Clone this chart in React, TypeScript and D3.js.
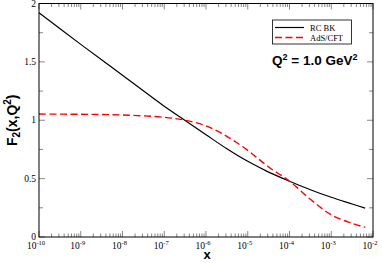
import React from "react";
import * as d3 from "d3";

// readings from the picture
const xs = [1e-10, 1e-9, 1e-8, 1e-7, 3.16e-7, 1e-6, 3.16e-6, 1e-5, 3.16e-5, 1e-4, 3.16e-4, 1e-3, 3.16e-3, 6.5e-3];
const rcbk = [1.92, 1.65, 1.385, 1.12, 0.998, 0.876, 0.756, 0.648, 0.556, 0.478, 0.405, 0.34, 0.283, 0.247];
const adscft = [1.053, 1.051, 1.045, 1.025, 1.0, 0.952, 0.862, 0.742, 0.6, 0.478, 0.323, 0.19, 0.117, 0.083];
const xTicks = [-10, -9, -8, -7, -6, -5, -4, -3, -2];
const yTicks = [0, 0.5, 1, 1.5, 2];
const yMinor = [0.25, 0.75, 1.25, 1.75];

const W = 382, H = 263;
const m = {left: 39, right: 9, top: 3.5, bottom: 26};

export default function App() {
    const x = d3.scaleLog().domain([1e-10, 1e-2]).range([m.left, W - m.right]);
    const y = d3.scaleLinear().domain([0, 2]).range([H - m.bottom, m.top]);
    const line = d3.line<number>()
        .x((d, i) => x(xs[i]))
        .y(d => y(d))
        .curve(d3.curveCatmullRom.alpha(0.5));

    const minors: number[] = [];
    xTicks.slice(0, -1).forEach(e => {
        for (let k = 2; k <= 9; k++) minors.push(k * Math.pow(10, e));
    });

    const x0 = m.left, x1 = W - m.right, y0 = H - m.bottom, y1 = m.top;
    const tickCol = "#888";
    const sans = "'Liberation Sans', Arial, sans-serif";

    return (
        <svg width={W} height={H} style={{position: "absolute", left: 0, top: 0, background: "#fff"}}
             fontFamily="'Liberation Serif', serif">
            {/* ticks, all four sides, inward */}
            {xTicks.map(e => {
                const px = x(Math.pow(10, e));
                return <g key={"xt" + e}>
                    <line x1={px} x2={px} y1={y0} y2={y0 - 6} stroke={tickCol}/>
                    <line x1={px} x2={px} y1={y1} y2={y1 + 6} stroke={tickCol}/>
                </g>;
            })}
            {minors.map((v, i) => {
                const px = x(v);
                return <g key={"xm" + i}>
                    <line x1={px} x2={px} y1={y0} y2={y0 - 3.5} stroke={tickCol}/>
                    <line x1={px} x2={px} y1={y1} y2={y1 + 3.5} stroke={tickCol}/>
                </g>;
            })}
            {yTicks.map(v => (
                <g key={"yt" + v}>
                    <line x1={x0} x2={x0 + 6} y1={y(v)} y2={y(v)} stroke={tickCol}/>
                    <line x1={x1} x2={x1 - 6} y1={y(v)} y2={y(v)} stroke={tickCol}/>
                </g>
            ))}
            {yMinor.map(v => (
                <g key={"ym" + v}>
                    <line x1={x0} x2={x0 + 4} y1={y(v)} y2={y(v)} stroke={tickCol}/>
                    <line x1={x1} x2={x1 - 4} y1={y(v)} y2={y(v)} stroke={tickCol}/>
                </g>
            ))}

            {/* curves */}
            <path d={line(rcbk) || ""} fill="none" stroke="#000" strokeWidth={1.2}/>
            <path d={line(adscft) || ""} fill="none" stroke="#ff0000" strokeWidth={1.4} strokeDasharray="7,3.5"/>

            {/* frame */}
            <rect x={x0} y={y1} width={x1 - x0} height={y0 - y1} fill="none" stroke="#000" strokeWidth={1}/>

            {/* tick labels */}
            {yTicks.map(v => (
                <text key={"yl" + v} x={x0 - 3} y={y(v) + 3} textAnchor="end" fontSize={9.5}>
                    {d3.format("")(v)}
                </text>
            ))}
            {xTicks.map(e => (
                <text key={"xl" + e} x={x(Math.pow(10, e)) - 3} y={y0 + 12} textAnchor="middle" fontSize={9.5}>
                    10<tspan dy={-4} fontSize={6.5}>{e}</tspan>
                </text>
            ))}

            {/* axis titles */}
            <text x={207} y={259} textAnchor="middle" fontFamily={sans} fontWeight="bold" fontSize={13}>x</text>
            <text transform={`translate(17,${(y0 + y1) / 2}) rotate(-90)`} textAnchor="middle"
                  fontFamily={sans} fontWeight="bold" fontSize={14}>
                F<tspan dy={3} fontSize={10}>2</tspan><tspan dy={-3}>(x,Q</tspan><tspan dy={-6} fontSize={10}>2</tspan><tspan dy={6}>)</tspan>
            </text>

            {/* annotation */}
            <text x={272} y={65} fontFamily={sans} fontWeight="bold" fontSize={13.5}>
                Q<tspan dy={-5} fontSize={9}>2</tspan><tspan dy={5}> = 1.0 GeV</tspan><tspan dy={-5} fontSize={9}>2</tspan>
            </text>

            {/* legend */}
            <rect x={272.5} y={20} width={79} height={24} fill="#fff" stroke="#000" strokeWidth={0.8}/>
            <line x1={275} x2={304} y1={27.5} y2={27.5} stroke="#000" strokeWidth={1.2}/>
            <line x1={275} x2={304} y1={37.5} y2={37.5} stroke="#ff0000" strokeWidth={1.4} strokeDasharray="7,3.5"/>
            <text x={310} y={30.5} fontSize={8.5}>RC BK</text>
            <text x={310} y={40.5} fontSize={8.5}>AdS/CFT</text>
        </svg>
    );
}
